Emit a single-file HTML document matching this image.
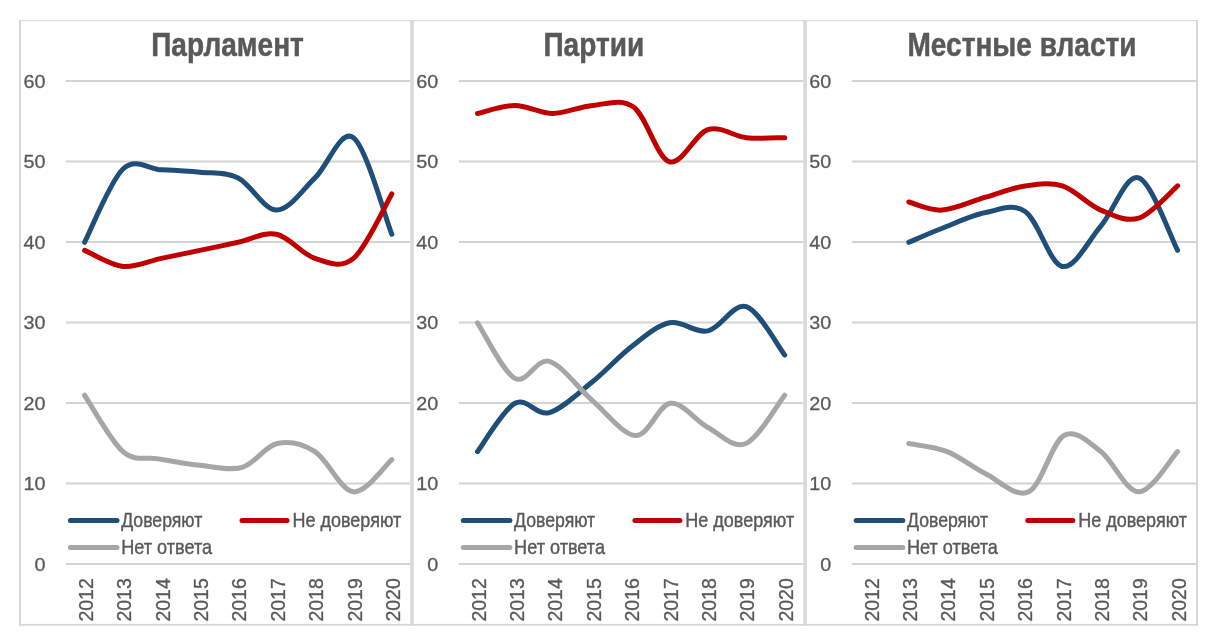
<!DOCTYPE html>
<html lang="ru"><head><meta charset="utf-8"><title>Доверие</title>
<style>html,body{margin:0;padding:0;background:#fff}svg{display:block}text{font-family:"Liberation Sans",sans-serif;fill:#595959}.yl{font-family:"Liberation Sans", sans-serif}.t{font-weight:bold}</style></head><body>
<svg width="1217" height="641" viewBox="0 0 1217 641">
<rect width="1217" height="641" fill="#fff"/>
<g fill="#d6d6d6">
<rect x="19" y="20" width="1179" height="1.1" fill="#dcdcdc"/>
<rect x="19" y="623.9" width="1179" height="1.8"/>
<rect x="19" y="20" width="2" height="605.6"/>
<rect x="1196.1" y="20" width="1.9" height="605.6"/>
<rect x="410.2" y="20" width="3.6" height="605.6" fill="#d9d9d9"/>
<rect x="803.3" y="20" width="3.6" height="605.6" fill="#d9d9d9"/>
</g>
<g stroke="#d4d4d4" stroke-width="1.8">
<line x1="66.0" y1="564.0" x2="410.2" y2="564.0"/>
<line x1="66.0" y1="483.5" x2="410.2" y2="483.5"/>
<line x1="66.0" y1="403.0" x2="410.2" y2="403.0"/>
<line x1="66.0" y1="322.5" x2="410.2" y2="322.5"/>
<line x1="66.0" y1="242.0" x2="410.2" y2="242.0"/>
<line x1="66.0" y1="161.5" x2="410.2" y2="161.5"/>
<line x1="66.0" y1="81.0" x2="410.2" y2="81.0"/>
</g>
<text class="yl" font-size="19" text-anchor="end" stroke="#595959" stroke-width="0.3" transform="translate(45.4,570.5) scale(1.04,1)">0</text>
<text class="yl" font-size="19" text-anchor="end" stroke="#595959" stroke-width="0.3" transform="translate(45.4,490.0) scale(1.04,1)">10</text>
<text class="yl" font-size="19" text-anchor="end" stroke="#595959" stroke-width="0.3" transform="translate(45.4,409.5) scale(1.04,1)">20</text>
<text class="yl" font-size="19" text-anchor="end" stroke="#595959" stroke-width="0.3" transform="translate(45.4,329.0) scale(1.04,1)">30</text>
<text class="yl" font-size="19" text-anchor="end" stroke="#595959" stroke-width="0.3" transform="translate(45.4,248.5) scale(1.04,1)">40</text>
<text class="yl" font-size="19" text-anchor="end" stroke="#595959" stroke-width="0.3" transform="translate(45.4,168.0) scale(1.04,1)">50</text>
<text class="yl" font-size="19" text-anchor="end" stroke="#595959" stroke-width="0.3" transform="translate(45.4,87.5) scale(1.04,1)">60</text>
<text font-size="19.5" stroke="#595959" stroke-width="0.3" transform="translate(92.7,621.6) scale(1.07,1) rotate(-90)">2012</text>
<text font-size="19.5" stroke="#595959" stroke-width="0.3" transform="translate(131.1,621.6) scale(1.07,1) rotate(-90)">2013</text>
<text font-size="19.5" stroke="#595959" stroke-width="0.3" transform="translate(169.5,621.6) scale(1.07,1) rotate(-90)">2014</text>
<text font-size="19.5" stroke="#595959" stroke-width="0.3" transform="translate(207.9,621.6) scale(1.07,1) rotate(-90)">2015</text>
<text font-size="19.5" stroke="#595959" stroke-width="0.3" transform="translate(246.3,621.6) scale(1.07,1) rotate(-90)">2016</text>
<text font-size="19.5" stroke="#595959" stroke-width="0.3" transform="translate(284.7,621.6) scale(1.07,1) rotate(-90)">2017</text>
<text font-size="19.5" stroke="#595959" stroke-width="0.3" transform="translate(323.1,621.6) scale(1.07,1) rotate(-90)">2018</text>
<text font-size="19.5" stroke="#595959" stroke-width="0.3" transform="translate(361.5,621.6) scale(1.07,1) rotate(-90)">2019</text>
<text font-size="19.5" stroke="#595959" stroke-width="0.3" transform="translate(399.9,621.6) scale(1.07,1) rotate(-90)">2020</text>
<text class="t" font-size="33.6" text-anchor="middle" stroke="#595959" stroke-width="0.5" transform="translate(227.5,55.9) scale(0.835,1)">Парламент</text>
<g fill="none" stroke-width="5" stroke-linecap="round" stroke-linejoin="round">
<path stroke="#1f4e79" d="M84.60,242.30 C91.00,230.09 110.20,181.12 123.00,169.04 C135.80,156.97 148.60,169.31 161.40,169.85 C174.20,170.39 187.00,170.92 199.80,172.26 C212.60,173.61 225.40,171.59 238.20,177.90 C251.00,184.21 263.80,210.10 276.60,210.10 C289.40,210.10 302.20,189.97 315.00,177.90 C327.80,165.82 340.60,128.26 353.40,137.65 C366.20,147.04 385.40,218.15 391.80,234.25"/>
<path stroke="#c00000" d="M84.60,250.35 C91.00,253.03 110.20,265.11 123.00,266.45 C135.80,267.79 148.60,261.08 161.40,258.40 C174.20,255.72 187.00,253.03 199.80,250.35 C212.60,247.67 225.40,244.98 238.20,242.30 C251.00,239.62 263.80,231.57 276.60,234.25 C289.40,236.93 302.20,254.37 315.00,258.40 C327.80,262.42 340.60,269.13 353.40,258.40 C366.20,247.67 385.40,204.73 391.80,194.00"/>
<path stroke="#a6a6a6" d="M84.60,395.25 C91.00,404.64 110.70,441.00 123.00,451.60 C135.30,462.20 145.60,456.56 158.40,458.84 C171.20,461.13 185.83,463.88 199.80,465.29 C213.77,466.69 229.32,470.92 242.20,467.30 C255.08,463.68 264.97,446.17 277.10,443.55 C289.23,440.93 302.28,443.55 315.00,451.60 C327.72,459.65 340.60,490.51 353.40,491.85 C366.20,493.19 385.40,465.02 391.80,459.65"/>
<path stroke="#1f4e79" d="M70.4,520.5H117.0"/>
<path stroke="#c00000" d="M242.0,520.5H287.0"/>
<path stroke="#a6a6a6" d="M70.4,547.4H117.0"/>
</g>
<text font-size="19.6" stroke="#595959" stroke-width="0.4" transform="translate(121.2,527.2) scale(0.9005,1)">Доверяют</text>
<text font-size="19.6" stroke="#595959" stroke-width="0.4" transform="translate(292.4,527.2) scale(0.9195,1)">Не доверяют</text>
<text font-size="19.6" stroke="#595959" stroke-width="0.4" transform="translate(121.2,553.8) scale(0.9249,1)">Нет ответа</text>
<g stroke="#d4d4d4" stroke-width="1.8">
<line x1="458.9" y1="564.0" x2="803.3" y2="564.0"/>
<line x1="458.9" y1="483.5" x2="803.3" y2="483.5"/>
<line x1="458.9" y1="403.0" x2="803.3" y2="403.0"/>
<line x1="458.9" y1="322.5" x2="803.3" y2="322.5"/>
<line x1="458.9" y1="242.0" x2="803.3" y2="242.0"/>
<line x1="458.9" y1="161.5" x2="803.3" y2="161.5"/>
<line x1="458.9" y1="81.0" x2="803.3" y2="81.0"/>
</g>
<text class="yl" font-size="19" text-anchor="end" stroke="#595959" stroke-width="0.3" transform="translate(438.3,570.5) scale(1.04,1)">0</text>
<text class="yl" font-size="19" text-anchor="end" stroke="#595959" stroke-width="0.3" transform="translate(438.3,490.0) scale(1.04,1)">10</text>
<text class="yl" font-size="19" text-anchor="end" stroke="#595959" stroke-width="0.3" transform="translate(438.3,409.5) scale(1.04,1)">20</text>
<text class="yl" font-size="19" text-anchor="end" stroke="#595959" stroke-width="0.3" transform="translate(438.3,329.0) scale(1.04,1)">30</text>
<text class="yl" font-size="19" text-anchor="end" stroke="#595959" stroke-width="0.3" transform="translate(438.3,248.5) scale(1.04,1)">40</text>
<text class="yl" font-size="19" text-anchor="end" stroke="#595959" stroke-width="0.3" transform="translate(438.3,168.0) scale(1.04,1)">50</text>
<text class="yl" font-size="19" text-anchor="end" stroke="#595959" stroke-width="0.3" transform="translate(438.3,87.5) scale(1.04,1)">60</text>
<text font-size="19.5" stroke="#595959" stroke-width="0.3" transform="translate(485.6,621.6) scale(1.07,1) rotate(-90)">2012</text>
<text font-size="19.5" stroke="#595959" stroke-width="0.3" transform="translate(524.0,621.6) scale(1.07,1) rotate(-90)">2013</text>
<text font-size="19.5" stroke="#595959" stroke-width="0.3" transform="translate(562.4,621.6) scale(1.07,1) rotate(-90)">2014</text>
<text font-size="19.5" stroke="#595959" stroke-width="0.3" transform="translate(600.8,621.6) scale(1.07,1) rotate(-90)">2015</text>
<text font-size="19.5" stroke="#595959" stroke-width="0.3" transform="translate(639.2,621.6) scale(1.07,1) rotate(-90)">2016</text>
<text font-size="19.5" stroke="#595959" stroke-width="0.3" transform="translate(677.6,621.6) scale(1.07,1) rotate(-90)">2017</text>
<text font-size="19.5" stroke="#595959" stroke-width="0.3" transform="translate(716.0,621.6) scale(1.07,1) rotate(-90)">2018</text>
<text font-size="19.5" stroke="#595959" stroke-width="0.3" transform="translate(754.4,621.6) scale(1.07,1) rotate(-90)">2019</text>
<text font-size="19.5" stroke="#595959" stroke-width="0.3" transform="translate(792.8,621.6) scale(1.07,1) rotate(-90)">2020</text>
<text class="t" font-size="33.6" text-anchor="middle" stroke="#595959" stroke-width="0.5" transform="translate(593.8,55.9) scale(0.835,1)">Партии</text>
<g fill="none" stroke-width="5" stroke-linecap="round" stroke-linejoin="round">
<path stroke="#1f4e79" d="M477.50,451.60 C483.73,443.55 502.93,409.81 514.90,403.30 C526.87,396.79 536.33,416.18 549.30,412.56 C562.27,408.93 579.07,392.50 592.70,381.56 C606.33,370.63 618.30,356.74 631.10,346.95 C643.90,337.16 656.70,325.48 669.50,322.80 C682.30,320.12 695.10,333.53 707.90,330.85 C720.70,328.17 733.50,302.67 746.30,306.70 C759.10,310.73 778.30,346.95 784.70,355.00"/>
<path stroke="#c00000" d="M477.50,113.50 C483.73,112.16 502.35,105.45 514.90,105.45 C527.45,105.45 539.83,113.50 552.80,113.50 C565.77,113.50 579.23,106.52 592.70,105.45 C606.17,104.38 620.80,97.67 633.60,107.06 C646.40,116.45 657.12,158.04 669.50,161.80 C681.88,165.56 695.10,133.62 707.90,129.60 C720.70,125.57 733.50,136.31 746.30,137.65 C759.10,138.99 778.30,137.65 784.70,137.65"/>
<path stroke="#a6a6a6" d="M477.50,322.80 C483.73,332.06 502.93,371.90 514.90,378.34 C526.87,384.78 536.33,357.68 549.30,361.44 C562.27,365.20 578.28,388.54 592.70,400.88 C607.12,413.23 622.83,435.10 635.80,435.50 C648.77,435.90 658.48,404.64 670.50,403.30 C682.52,401.96 695.35,420.74 707.90,427.45 C720.45,434.16 733.00,448.92 745.80,443.55 C758.60,438.18 778.22,403.30 784.70,395.25"/>
<path stroke="#1f4e79" d="M463.3,520.5H509.9"/>
<path stroke="#c00000" d="M634.9,520.5H679.9"/>
<path stroke="#a6a6a6" d="M463.3,547.4H509.9"/>
</g>
<text font-size="19.6" stroke="#595959" stroke-width="0.4" transform="translate(514.1,527.2) scale(0.9005,1)">Доверяют</text>
<text font-size="19.6" stroke="#595959" stroke-width="0.4" transform="translate(685.3,527.2) scale(0.9195,1)">Не доверяют</text>
<text font-size="19.6" stroke="#595959" stroke-width="0.4" transform="translate(514.1,553.8) scale(0.9249,1)">Нет ответа</text>
<g stroke="#d4d4d4" stroke-width="1.8">
<line x1="851.8" y1="564.0" x2="1196.1" y2="564.0"/>
<line x1="851.8" y1="483.5" x2="1196.1" y2="483.5"/>
<line x1="851.8" y1="403.0" x2="1196.1" y2="403.0"/>
<line x1="851.8" y1="322.5" x2="1196.1" y2="322.5"/>
<line x1="851.8" y1="242.0" x2="1196.1" y2="242.0"/>
<line x1="851.8" y1="161.5" x2="1196.1" y2="161.5"/>
<line x1="851.8" y1="81.0" x2="1196.1" y2="81.0"/>
</g>
<text class="yl" font-size="19" text-anchor="end" stroke="#595959" stroke-width="0.3" transform="translate(831.2,570.5) scale(1.04,1)">0</text>
<text class="yl" font-size="19" text-anchor="end" stroke="#595959" stroke-width="0.3" transform="translate(831.2,490.0) scale(1.04,1)">10</text>
<text class="yl" font-size="19" text-anchor="end" stroke="#595959" stroke-width="0.3" transform="translate(831.2,409.5) scale(1.04,1)">20</text>
<text class="yl" font-size="19" text-anchor="end" stroke="#595959" stroke-width="0.3" transform="translate(831.2,329.0) scale(1.04,1)">30</text>
<text class="yl" font-size="19" text-anchor="end" stroke="#595959" stroke-width="0.3" transform="translate(831.2,248.5) scale(1.04,1)">40</text>
<text class="yl" font-size="19" text-anchor="end" stroke="#595959" stroke-width="0.3" transform="translate(831.2,168.0) scale(1.04,1)">50</text>
<text class="yl" font-size="19" text-anchor="end" stroke="#595959" stroke-width="0.3" transform="translate(831.2,87.5) scale(1.04,1)">60</text>
<text font-size="19.5" stroke="#595959" stroke-width="0.3" transform="translate(878.5,621.6) scale(1.07,1) rotate(-90)">2012</text>
<text font-size="19.5" stroke="#595959" stroke-width="0.3" transform="translate(916.9,621.6) scale(1.07,1) rotate(-90)">2013</text>
<text font-size="19.5" stroke="#595959" stroke-width="0.3" transform="translate(955.3,621.6) scale(1.07,1) rotate(-90)">2014</text>
<text font-size="19.5" stroke="#595959" stroke-width="0.3" transform="translate(993.7,621.6) scale(1.07,1) rotate(-90)">2015</text>
<text font-size="19.5" stroke="#595959" stroke-width="0.3" transform="translate(1032.1,621.6) scale(1.07,1) rotate(-90)">2016</text>
<text font-size="19.5" stroke="#595959" stroke-width="0.3" transform="translate(1070.5,621.6) scale(1.07,1) rotate(-90)">2017</text>
<text font-size="19.5" stroke="#595959" stroke-width="0.3" transform="translate(1108.9,621.6) scale(1.07,1) rotate(-90)">2018</text>
<text font-size="19.5" stroke="#595959" stroke-width="0.3" transform="translate(1147.3,621.6) scale(1.07,1) rotate(-90)">2019</text>
<text font-size="19.5" stroke="#595959" stroke-width="0.3" transform="translate(1185.7,621.6) scale(1.07,1) rotate(-90)">2020</text>
<text class="t" font-size="33.6" text-anchor="middle" stroke="#595959" stroke-width="0.5" transform="translate(1022.0,55.9) scale(0.835,1)">Местные власти</text>
<g fill="none" stroke-width="5" stroke-linecap="round" stroke-linejoin="round">
<path stroke="#1f4e79" d="M908.80,242.30 C914.37,239.95 929.40,233.18 942.20,228.21 C955.00,223.25 971.72,215.27 985.60,212.51 C999.48,209.76 1012.70,202.72 1025.50,211.71 C1038.30,220.70 1049.85,264.03 1062.40,266.45 C1074.95,268.87 1088.08,240.96 1100.80,226.20 C1113.52,211.44 1125.90,173.87 1138.70,177.90 C1151.50,181.92 1171.12,238.27 1177.60,250.35"/>
<path stroke="#c00000" d="M908.80,202.05 C914.37,203.39 929.40,210.90 942.20,210.10 C955.00,209.29 971.80,201.24 985.60,197.22 C999.40,193.19 1012.20,187.83 1025.00,185.95 C1037.80,184.07 1049.77,181.92 1062.40,185.95 C1075.03,189.97 1088.08,204.73 1100.80,210.10 C1113.52,215.47 1125.90,222.17 1138.70,218.15 C1151.50,214.12 1171.12,191.32 1177.60,185.95"/>
<path stroke="#a6a6a6" d="M908.80,443.55 C915.20,444.89 934.40,446.57 947.20,451.60 C960.00,456.63 972.02,467.03 985.60,473.74 C999.18,480.45 1015.65,498.22 1028.70,491.85 C1041.75,485.48 1051.88,442.21 1063.90,435.50 C1075.92,428.79 1088.33,442.21 1100.80,451.60 C1113.27,460.99 1125.90,491.85 1138.70,491.85 C1151.50,491.85 1171.12,458.31 1177.60,451.60"/>
<path stroke="#1f4e79" d="M856.2,520.5H902.8"/>
<path stroke="#c00000" d="M1027.8,520.5H1072.8"/>
<path stroke="#a6a6a6" d="M856.2,547.4H902.8"/>
</g>
<text font-size="19.6" stroke="#595959" stroke-width="0.4" transform="translate(907.0,527.2) scale(0.9005,1)">Доверяют</text>
<text font-size="19.6" stroke="#595959" stroke-width="0.4" transform="translate(1078.2,527.2) scale(0.9195,1)">Не доверяют</text>
<text font-size="19.6" stroke="#595959" stroke-width="0.4" transform="translate(907.0,553.8) scale(0.9249,1)">Нет ответа</text>
</svg></body></html>
